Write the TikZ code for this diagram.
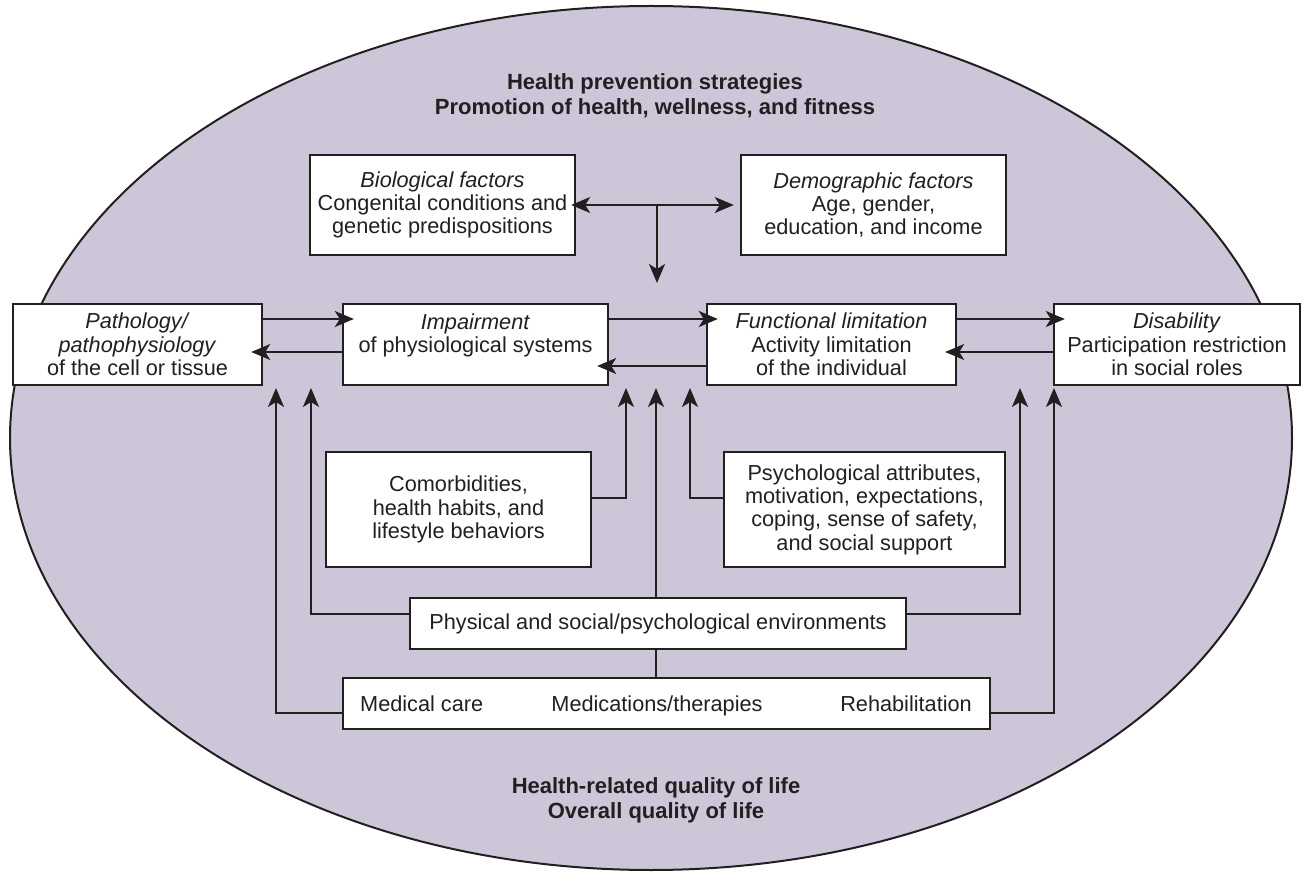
\documentclass[tikz,border=0pt]{standalone}
\usepackage{fontspec}
\setmainfont{Liberation Sans}
\usetikzlibrary{arrows.meta}
\definecolor{ink}{RGB}{35,31,32}
\definecolor{lilac}{RGB}{205,197,216}

\begin{document}
\begin{tikzpicture}[line join=miter,>={Stealth[length=19pt,width=16pt,inset=5pt]},x=1pt,y=-1pt,
		box/.style={draw=ink,fill=white,line width=2.4pt,inner sep=0pt,align=center,text=ink,font=\fontsize{21.7}{23.3}\selectfont},
		lbl/.style={inner sep=0pt,text=ink,font=\fontsize{21.7}{23.3}\selectfont},
		head/.style={inner sep=0pt,align=center,text=ink,font=\fontsize{22}{25}\selectfont\bfseries},
		wire/.style={draw=ink,line width=2pt},
		arr/.style={wire,->},
		link/.style={arr,shorten >=-12pt}]
				\useasboundingbox (0,0) rectangle (1302,874);
				\draw [fill=lilac,draw=ink,line width=2pt] (651,438) ellipse [x radius=641pt,y radius=432pt];
				\node [head] (hps) at (655,96) {Health prevention strategies\\Promotion of health, wellness, and fitness};
				\node [head] (qol) at (656,800) {Health-related quality of life\\Overall quality of life};
				\node [box,minimum width=265pt,minimum height=100pt] (bio) at (442.5,205) {\textit{Biological factors}\\Congenital conditions and\\genetic predispositions};
				\node [box,minimum width=265pt,minimum height=100pt] (demo) at (873.5,205) {\textit{Demographic factors}\\Age, gender,\\education, and income};
				\node [box,minimum width=249pt,minimum height=81pt] (patho) at (137.5,344.5) {\textit{Pathology/}\\\textit{pathophysiology}\\of the cell or tissue};
				\node [box,minimum width=265pt,minimum height=81pt] (imp) at (475.5,344.5) {\textit{Impairment}\\of physiological systems\\\mbox{}};
				\node [box,minimum width=249pt,minimum height=81pt] (func) at (831.5,344.5) {\textit{Functional limitation}\\Activity limitation\\of the individual};
				\node [box,minimum width=246pt,minimum height=81pt] (dis) at (1177,344.5) {\textit{Disability}\\Participation restriction\\in social roles};
				\node [box,minimum width=265pt,minimum height=115pt] (com) at (458.5,509.5) {Comorbidities,\\health habits, and\\lifestyle behaviors};
				\node [box,minimum width=281pt,minimum height=115pt] (psy) at (864.5,509.5) {Psychological attributes,\\motivation, expectations,\\coping, sense of safety,\\and social support};
				\node [box,minimum width=496pt,minimum height=51pt] (env) at (658,623.5) {Physical and social/psychological environments};
				\node [box,minimum width=647pt,minimum height=51pt] (care) at (666.5,703.5) {};
				\node [lbl,anchor=base west] (med) at (360,711) {Medical care};
				\node [lbl,anchor=base] (drug) at (657,711) {Medications/therapies};
				\node [lbl,anchor=base east] (rehab) at (972,711) {Rehabilitation};
				\coordinate (tee) at (657,205);
				\coordinate (teetip) at (657,283);
				\coordinate (upA) at (276,388);
				\coordinate (upB) at (311,388);
				\coordinate (upC) at (626,388);
				\coordinate (upD) at (656,388);
				\coordinate (upE) at (690,388);
				\coordinate (upF) at (1020,388);
				\coordinate (upG) at (1054,388);
				\draw [wire,<->,shorten <=-5pt,shorten >=6pt] (bio.east) -- (demo.west);
				\draw [arr] (tee) -- (teetip);
				\draw [link] (patho.east |- 0,319) -- (imp.west |- 0,319);
				\draw [link] (imp.west |- 0,352) -- (patho.east |- 0,352);
				\draw [link] (imp.east |- 0,319) -- (func.west |- 0,319);
				\draw [link] (func.west |- 0,366) -- (imp.east |- 0,366);
				\draw [link] (func.east |- 0,319) -- (dis.west |- 0,319);
				\draw [link] (dis.west |- 0,352) -- (func.east |- 0,352);
				\draw [arr] (care.west |- 0,713) -| (upA);
				\draw [arr] (env.west |- 0,614) -| (upB);
				\draw [arr] (com.east |- 0,498) -| (upC);
				\draw [arr] (upD |- env.north) -- (upD);
				\draw [arr] (psy.west |- 0,498) -| (upE);
				\draw [arr] (env.east |- 0,614) -| (upF);
				\draw [arr] (care.east |- 0,713) -| (upG);
				\draw [wire] (upD |- env.south) -- (upD |- care.north);
\end{tikzpicture}
\end{document}
